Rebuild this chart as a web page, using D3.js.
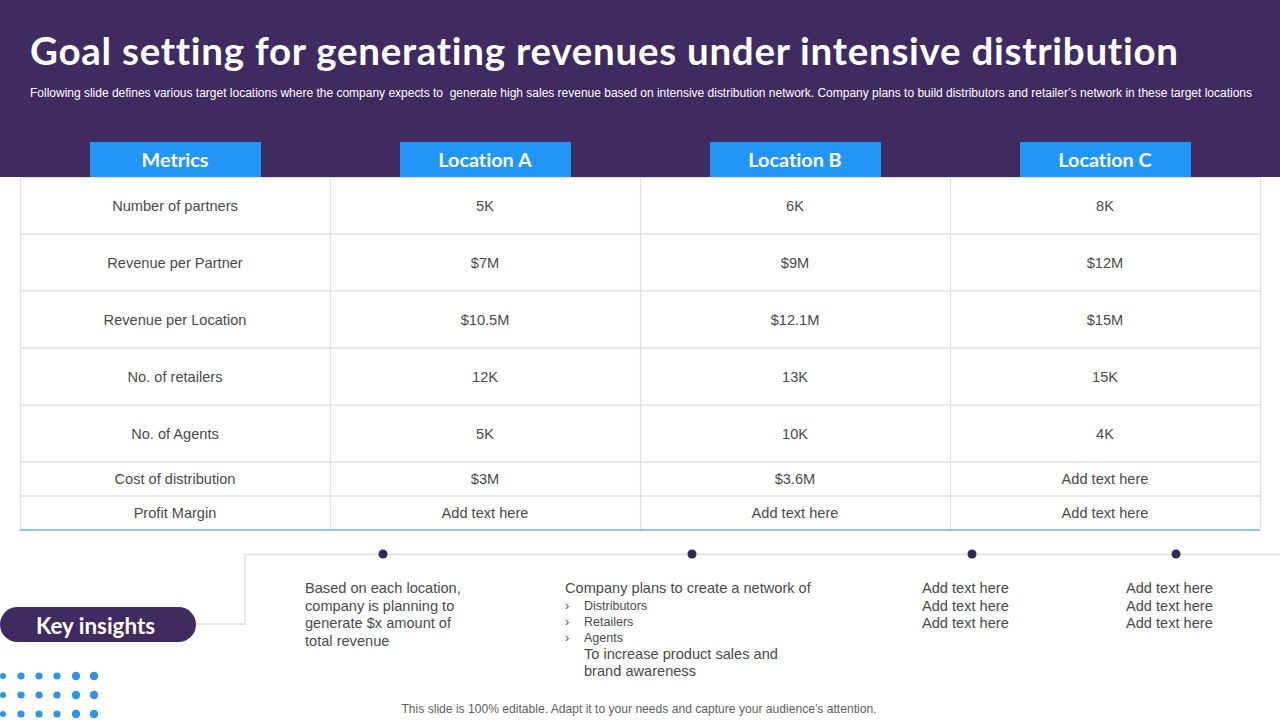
<!DOCTYPE html>
<html>
<head>
<meta charset="utf-8">
<script src="https://cdn.jsdelivr.net/npm/d3@7/dist/d3.min.js"></script>
<style>
html,body{margin:0;padding:0;background:#fff;}
svg{display:block;}
text{font-family:"Liberation Sans",Arial,sans-serif;font-variant-ligatures:none;}
</style>
</head>
<body>
<svg id="c" width="1280" height="720"></svg>
<script>
const titleText = "Goal setting for generating revenues under intensive distribution";
const subtitleText = "Following slide defines various target locations where the company expects to  generate high sales revenue based on intensive distribution network. Company plans to build distributors and retailer\u2019s network in these target locations";
const columns = ["Metrics","Location A","Location B","Location C"];
const metrics = ["Number of partners","Revenue per Partner","Revenue per Location","No. of retailers","No. of Agents","Cost of distribution","Profit Margin"];
const locationA = ["5K","$7M","$10.5M","12K","5K","$3M","Add text here"];
const locationB = ["6K","$9M","$12.1M","13K","10K","$3.6M","Add text here"];
const locationC = ["8K","$12M","$15M","15K","4K","Add text here","Add text here"];
const insightLabel = "Key insights";
const insight1 = ["Based on each location,","company is planning to","generate $x amount of","total revenue"];
const insight2Head = "Company plans to create a network of";
const insight2Bullets = ["Distributors","Retailers","Agents"];
const insight2Tail = ["To increase product sales and","brand awareness"];
const insight3 = ["Add text here","Add text here","Add text here"];
const insight4 = ["Add text here","Add text here","Add text here"];
const footerText = "This slide is 100% editable. Adapt it to your needs and capture your audience\u2019s attention.";

const PURPLE="#3f2b5f", BLUE="#2196f6", GRID="#e0e0e3", INK="#4a4a4a";
const HEAD='Lato,"Open Sans",sans-serif';
const svg=d3.select("#c");

// banner
svg.append("rect").attr("width",1280).attr("height",177).attr("fill",PURPLE);
svg.append("text").attr("x",30).attr("y",65).attr("fill","#fff")
  .attr("font-size",38.5).attr("font-weight",700).style("font-family",HEAD)
  .attr("textLength",1148).attr("lengthAdjust","spacing").text(titleText);
svg.append("text").attr("x",30).attr("y",97).attr("fill","#fff").attr("font-size",12)
  .attr("textLength",1222).attr("lengthAdjust","spacing").attr("xml:space","preserve").text(subtitleText);

// table scales
const x=d3.scaleBand().domain(columns).range([20,1260]);
const rowWeight=[57,57,57,57,57,34,34];
const edges=d3.cumsum(rowWeight);
const yEdge=d3.scaleLinear().domain([0,d3.sum(rowWeight)]).range([177,530]);
const rowTop=i=>yEdge(i?edges[i-1]:0), rowBot=i=>yEdge(edges[i]);

// header chips
const chipW=171;
const chips=svg.append("g").selectAll("g").data(columns).join("g");
chips.append("rect").attr("x",d=>Math.round(x(d)+x.bandwidth()/2-chipW/2)).attr("y",142).attr("width",chipW).attr("height",35).attr("fill",BLUE);
chips.append("text").attr("x",d=>x(d)+x.bandwidth()/2).attr("y",167).attr("text-anchor","middle")
  .attr("fill","#fff").attr("font-size",19.8).attr("font-weight",700).style("font-family",HEAD).text(d=>d);

// grid
const g=svg.append("g");
g.selectAll("line.h").data(metrics.slice(0,-1)).join("line").attr("class","h")
  .attr("x1",20).attr("x2",1260).attr("y1",(d,i)=>rowBot(i)).attr("y2",(d,i)=>rowBot(i)).attr("stroke",GRID).attr("stroke-width",1.4);
g.append("line").attr("x1",20).attr("x2",1260).attr("y1",177.5).attr("y2",177.5).attr("stroke",GRID);
g.selectAll("line.v").data([...columns.map(c=>x(c)),1260]).join("line").attr("class","v")
  .attr("x1",d=>d+.5).attr("x2",d=>d+.5).attr("y1",177).attr("y2",530).attr("stroke",GRID).attr("stroke-width",1.3);
g.append("line").attr("x1",20).attr("x2",1260).attr("y1",530).attr("y2",530).attr("stroke","#6fb5dc").attr("stroke-width",1.5);

// cells
[metrics,locationA,locationB,locationC].forEach((col,ci)=>{
  svg.append("g").selectAll("text").data(col).join("text")
    .attr("x",x(columns[ci])+x.bandwidth()/2)
    .attr("y",(d,i)=>(rowTop(i)+rowBot(i))/2+5)
    .attr("text-anchor","middle").attr("fill",INK).attr("font-size",14.6).text(d=>d);
});

// connector
svg.append("path").attr("d","M196,624H245V554.5H1280").attr("fill","none").attr("stroke","#dcdce3").attr("stroke-width",1.3);
svg.append("rect").attr("x",0).attr("y",607).attr("width",196).attr("height",35).attr("rx",17.5).attr("fill",PURPLE);
svg.append("text").attr("x",95.5).attr("y",634).attr("text-anchor","middle").attr("fill","#fff")
  .attr("font-size",22.4).attr("font-weight",700).style("font-family",HEAD).text(insightLabel);

const markerX=[383,692,972,1176];
svg.append("g").selectAll("circle").data(markerX).join("circle")
  .attr("cx",d=>d).attr("cy",554).attr("r",4.5).attr("fill","#35265c");

// insight text
function block(lines,x0,y0,step,size){
  svg.append("g").selectAll("text").data(lines).join("text")
    .attr("x",x0).attr("y",(d,i)=>y0+i*step).attr("fill",INK).attr("font-size",size).text(d=>d);
}
block(insight1,305,593,17.7,14.6);
block([insight2Head],565,593,0,14.6);
block(insight2Bullets,584,610,16,12.5);
block(insight2Bullets.map(()=>"\u203A"),565,610,16,12.5);
block(insight2Tail,584,659,17,14.6);
block(insight3,922,593,17.5,14.6);
block(insight4,1126,593,17.5,14.6);

// footer
svg.append("text").attr("x",639).attr("y",713).attr("text-anchor","middle").attr("fill","#5f5f5f").attr("font-size",12.1).text(footerText);

// decorative dots
const dotCols=[3,21,39,57,76,94], dotRows=[676,695,714], dotR=[3,3.6,3.6,3.6,4.2,4.2];
svg.append("g").selectAll("g").data(dotRows).join("g").selectAll("circle")
  .data(r=>dotCols.map((c,i)=>({r,c,i}))).join("circle")
  .attr("cx",d=>d.c).attr("cy",d=>d.r).attr("r",d=>dotR[d.i]).attr("fill","#2e93ea");
</script>
</body>
</html>
